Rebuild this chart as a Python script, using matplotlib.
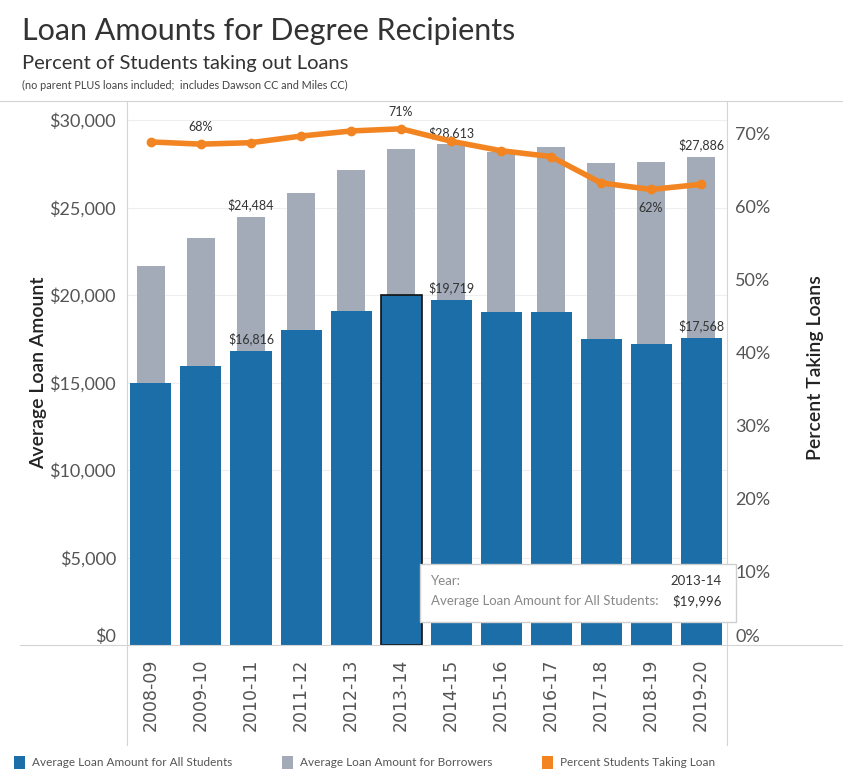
import matplotlib
matplotlib.use('Agg')
from matplotlib import pyplot as plt
from matplotlib.lines import Line2D
from matplotlib.patches import Rectangle
from matplotlib.ticker import FuncFormatter

plt.rcParams['font.family'] = ['Lato', 'DejaVu Sans']

years = ['2008-09', '2009-10', '2010-11', '2011-12', '2012-13', '2013-14',
         '2014-15', '2015-16', '2016-17', '2017-18', '2018-19', '2019-20']
borrowers = [21650, 23270, 24484, 25830, 27140, 28340,
             28613, 28190, 28460, 27560, 27600, 27886]
all_students = [14950, 15940, 16816, 17990, 19090, 19996,
                19719, 19030, 19030, 17490, 17200, 17568]
pct_taking = [68.8, 68.5, 68.7, 69.6, 70.3, 70.6,
              68.9, 67.6, 66.8, 63.2, 62.3, 63.0]

BLUE = '#1b6ea8'
GRAY = '#a2abb7'
ORANGE = '#f28522'
TXT = '#555555'

fig = plt.figure(figsize=(8.43, 7.82), dpi=100)
ax = fig.add_axes([127 / 843, 1 - 645 / 782, 600 / 843, 544 / 782])
x = range(len(years))

ax.bar(x, borrowers, width=0.56, color=GRAY, zorder=2)
bars = ax.bar(x, all_students, width=0.82, color=BLUE, zorder=3)
# selected bar has a dark outline
bars[5].set_edgecolor('#111111')
bars[5].set_linewidth(1.2)

ax.set_xlim(-0.48, 11.52)
ax.set_ylim(0, 31086)
ax.set_yticks([0, 5000, 10000, 15000, 20000, 25000, 30000])
ax.yaxis.set_major_formatter(FuncFormatter(lambda v, p: '${:,.0f}'.format(v)))
ax.tick_params(axis='y', length=0, labelsize=13, labelcolor=TXT, pad=8)
ax.tick_params(axis='x', length=0, labelsize=12.5, labelcolor=TXT, pad=10)
ax.set_xticks(list(x))
ax.set_xticklabels(years, rotation=90, family=['DejaVu Sans'])
ax.grid(axis='y', color='#eeeeee', linewidth=0.8, zorder=0)
for s in ax.spines.values():
    s.set_visible(False)
ax.set_ylabel('Average Loan Amount', fontsize=14, color='#222222',
              fontweight='semibold')
ax.yaxis.set_label_coords(-0.133, 0.5)
ax.get_yticklabels()[0].set_va('bottom')

# bar value labels
for i in [2, 6, 11]:
    ax.annotate('${:,}'.format(borrowers[i]), (i, borrowers[i]), xytext=(0, 4),
                textcoords='offset points', ha='center', va='bottom',
                fontsize=9, color='#333333', zorder=6)
for i in [2, 6, 11]:
    ax.annotate('${:,}'.format(all_students[i]), (i, all_students[i]), xytext=(0, 4),
                textcoords='offset points', ha='center', va='bottom',
                fontsize=9, color='#333333', zorder=6)

ax2 = ax.twinx()
ax2.plot(list(x), pct_taking, color=ORANGE, linewidth=4, marker='o',
         markersize=6, zorder=5, solid_capstyle='round')
ax2.set_ylim(0, 74.4)
ax2.set_yticks(range(0, 80, 10))
ax2.yaxis.set_major_formatter(FuncFormatter(lambda v, p: '{:.0f}%'.format(v)))
ax2.tick_params(axis='y', length=0, labelsize=13, labelcolor=TXT, pad=6)
for s in ax2.spines.values():
    s.set_visible(False)
ax2.set_ylabel('Percent Taking Loans', fontsize=14, color='#222222',
               fontweight='semibold')
ax2.yaxis.set_label_coords(1.133, 0.51)
ax2.get_yticklabels()[0].set_va('bottom')

for i, off in [(1, 8), (5, 8), (10, -18)]:
    ax2.annotate('{:.0f}%'.format(pct_taking[i]), (i, pct_taking[i]), xytext=(0, off),
                 textcoords='offset points', ha='center', va='bottom',
                 fontsize=9, color='#333333', zorder=6)

# frame lines like the dashboard
for (x0, x1, y0, y1) in [(0, 843, 101, 101), (20, 843, 645, 645),
                         (127, 127, 101, 745), (727, 727, 101, 745)]:
    fig.add_artist(Line2D([x0 / 843, x1 / 843], [1 - y0 / 782, 1 - y1 / 782],
                          color='#d4d4d4', linewidth=0.8))

# tooltip
fig.add_artist(Rectangle((420 / 843, 1 - 622 / 782), 316 / 843, 58 / 782,
                         facecolor='white', edgecolor='#cfcfcf', linewidth=1,
                         transform=fig.transFigure, zorder=10))
fig.text(431 / 843, 1 - 581 / 782, 'Year:', fontsize=9.5, color='#888888',
         va='center', zorder=11)
fig.text(722 / 843, 1 - 581 / 782, '2013-14', fontsize=9.5, color='#333333',
         va='center', ha='right', zorder=11)
fig.text(431 / 843, 1 - 601 / 782, 'Average Loan Amount for All Students:',
         fontsize=9.5, color='#888888', va='center', zorder=11)
fig.text(722 / 843, 1 - 601 / 782, '$19,996', fontsize=9.5, color='#333333',
         va='center', ha='right', zorder=11)

# titles
fig.text(22 / 843, 1 - 31 / 782, 'Loan Amounts for Degree Recipients',
         fontsize=22, color='#333333', va='center')
fig.text(22 / 843, 1 - 63 / 782, 'Percent of Students taking out Loans',
         fontsize=14.5, color='#333333', va='center')
fig.text(22 / 843, 1 - 85 / 782,
         '(no parent PLUS loans included;  includes Dawson CC and Miles CC)',
         fontsize=7.8, color='#444444', va='center')

# legend
legend = [('Average Loan Amount for All Students', BLUE, 14),
          ('Average Loan Amount for Borrowers', GRAY, 282),
          ('Percent Students Taking Loan', ORANGE, 542)]
for label, col, lx in legend:
    fig.add_artist(Rectangle((lx / 843, 1 - 769 / 782), 11 / 843, 13 / 782,
                             facecolor=col, transform=fig.transFigure))
    fig.text((lx + 18) / 843, 1 - 762 / 782, label, fontsize=8.5,
             color='#555555', va='center')

fig.savefig('out.png', dpi=100)
